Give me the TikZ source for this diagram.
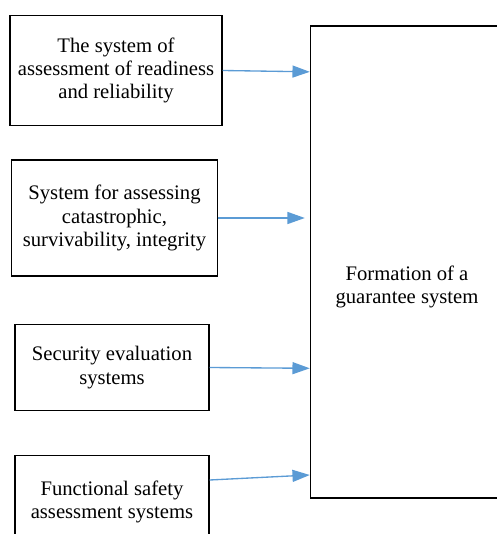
\documentclass[tikz,border=0pt]{standalone}
\usepackage{fontspec}
\setmainfont{Liberation Serif}
\usetikzlibrary{arrows.meta}

\definecolor{arrowblue}{RGB}{91,155,213}

\tikzset{
  sysbox/.style={draw=black, line width=0.8pt, rectangle, align=center, inner sep=0pt,
    font=\fontsize{15.5}{17.5}\selectfont},
  feed/.style={draw=arrowblue, line width=1pt, -{Triangle[length=13pt,width=9pt]}}
}

\begin{document}
\begin{tikzpicture}[x=0.75pt,y=0.75pt,yscale=-1,xscale=1]
\useasboundingbox (0,0) rectangle (496,534);

% Input boxes
\node [sysbox, minimum width=159pt, minimum height=83pt] (readiness) at (116,70.5) {The system of\\assessment of readiness\\and reliability};
\node [sysbox, minimum width=154pt, minimum height=87pt] (catastrophic) at (114.5,218) {System for assessing\\catastrophic,\\survivability, integrity};
\node [sysbox, minimum width=145.5pt, minimum height=64pt] (security) at (112,367.5) {Security evaluation\\systems};
\node [sysbox, minimum width=145.5pt, minimum height=70pt] (functional) at (112,502) {Functional safety\\assessment systems};

% Output box
\node [sysbox, minimum width=145pt, minimum height=354pt] (guarantee) at (407,262) {};
% Text Node
\node [font=\fontsize{15.5}{17.5}\selectfont, align=center, inner sep=0pt] (guaranteetext) at (407,287) {Formation of a\\guarantee system};

% Arrows
\draw [feed] (readiness.east) -- ([yshift=1pt]readiness.east -| guarantee.west);
\draw [feed] (catastrophic.east) -- ([xshift=-3.75pt]catastrophic.east -| guarantee.west);
\draw [feed] (security.east) -- ([yshift=0.6pt]security.east -| guarantee.west);
\draw [feed] ([yshift=-16.5pt]functional.east) -- ([yshift=-20.25pt]functional.east -| guarantee.west);

\end{tikzpicture}
\end{document}
